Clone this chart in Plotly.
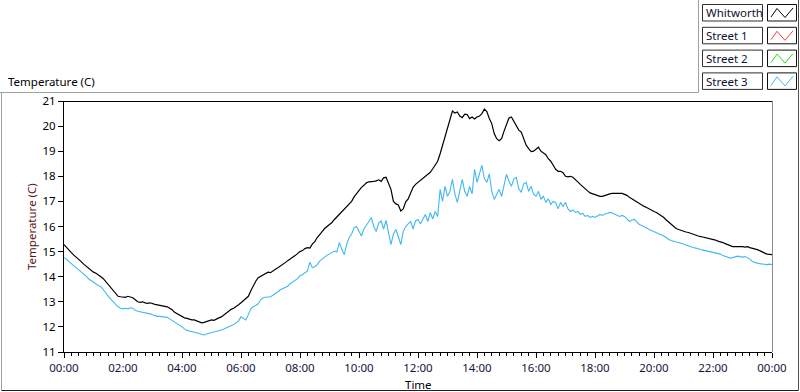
import pandas as pd
import plotly.graph_objects as go

# ---------------- data (5-minute samples, 00:00 .. 24:00) ----------------
whitworth = [
    15.28, 15.16, 15.04, 14.96, 14.86, 14.78, 14.70, 14.60, 14.50, 14.42, 14.34, 14.26,
    14.18, 14.14, 14.08, 14.00, 13.92, 13.80, 13.66, 13.54, 13.44, 13.34, 13.22, 13.20,
    13.20, 13.18, 13.22, 13.20, 13.16, 13.08, 13.00, 12.98, 13.00, 12.96, 12.94, 12.96,
    12.92, 12.90, 12.88, 12.86, 12.84, 12.82, 12.80, 12.74, 12.68, 12.58, 12.52, 12.46,
    12.40, 12.36, 12.34, 12.30, 12.28, 12.28, 12.24, 12.20, 12.16, 12.18, 12.22, 12.24,
    12.28, 12.26, 12.32, 12.36, 12.40, 12.48, 12.56, 12.62, 12.70, 12.74, 12.80, 12.88,
    12.96, 13.04, 13.14, 13.22, 13.44, 13.64, 13.82, 13.96, 14.02, 14.08, 14.14, 14.18,
    14.16, 14.24, 14.30, 14.36, 14.42, 14.48, 14.56, 14.64, 14.70, 14.76, 14.84, 14.92,
    15.00, 15.04, 15.12, 15.16, 15.14, 15.30, 15.40, 15.56, 15.70, 15.80, 15.92, 16.00,
    16.08, 16.16, 16.28, 16.38, 16.48, 16.60, 16.68, 16.80, 16.92, 17.00, 17.18, 17.32,
    17.44, 17.56, 17.64, 17.74, 17.78, 17.78, 17.80, 17.82, 17.86, 17.80, 17.94, 17.96,
    17.70, 17.48, 17.00, 16.90, 16.86, 16.62, 16.70, 16.98, 17.10, 17.30, 17.56, 17.68,
    17.76, 17.82, 17.90, 17.98, 18.08, 18.16, 18.30, 18.44, 18.60, 18.90, 19.24, 19.60,
    19.90, 20.24, 20.60, 20.52, 20.56, 20.40, 20.34, 20.48, 20.46, 20.30, 20.36, 20.28,
    20.36, 20.40, 20.50, 20.68, 20.58, 20.30, 20.10, 19.70, 19.50, 19.42, 19.50, 19.80,
    20.10, 20.32, 20.36, 20.18, 20.00, 19.84, 19.76, 19.50, 19.24, 19.10, 18.98, 19.00,
    19.10, 19.16, 19.00, 18.92, 18.86, 18.70, 18.60, 18.44, 18.28, 18.20, 18.20, 18.14,
    18.00, 17.98, 18.00, 17.96, 17.88, 17.78, 17.68, 17.58, 17.48, 17.42, 17.34, 17.30,
    17.28, 17.24, 17.20, 17.20, 17.24, 17.26, 17.30, 17.32, 17.32, 17.32, 17.30, 17.32,
    17.28, 17.24, 17.16, 17.10, 17.04, 16.98, 16.90, 16.86, 16.80, 16.76, 16.70, 16.66,
    16.60, 16.56, 16.50, 16.44, 16.36, 16.26, 16.18, 16.10, 16.00, 15.92, 15.88, 15.84,
    15.80, 15.78, 15.76, 15.72, 15.68, 15.66, 15.62, 15.60, 15.58, 15.56, 15.54, 15.52,
    15.48, 15.46, 15.42, 15.40, 15.36, 15.32, 15.28, 15.24, 15.20, 15.20, 15.20, 15.22,
    15.20, 15.18, 15.20, 15.16, 15.14, 15.10, 15.08, 15.04, 14.98, 14.94, 14.90, 14.88,
    14.88,
]

street3 = [
    14.76, 14.70, 14.60, 14.52, 14.42, 14.34, 14.26, 14.18, 14.10, 14.02, 13.92, 13.85,
    13.78, 13.70, 13.64, 13.60, 13.50, 13.36, 13.22, 13.10, 13.00, 12.90, 12.80, 12.74,
    12.72, 12.74, 12.72, 12.76, 12.74, 12.66, 12.62, 12.60, 12.58, 12.56, 12.56, 12.52,
    12.48, 12.44, 12.42, 12.42, 12.40, 12.40, 12.38, 12.32, 12.26, 12.18, 12.12, 12.06,
    12.00, 11.92, 11.86, 11.84, 11.82, 11.80, 11.78, 11.74, 11.70, 11.68, 11.72, 11.76,
    11.78, 11.80, 11.82, 11.84, 11.88, 11.92, 11.96, 12.00, 12.04, 12.10, 12.16, 12.24,
    12.40, 12.34, 12.28, 12.50, 12.72, 12.80, 12.86, 12.92, 13.08, 13.16, 13.18, 13.20,
    13.20, 13.26, 13.32, 13.40, 13.48, 13.52, 13.58, 13.62, 13.72, 13.78, 13.84, 13.92,
    14.04, 14.08, 14.16, 14.22, 14.58, 14.36, 14.40, 14.48, 14.62, 14.70, 14.76, 14.86,
    14.90, 14.96, 15.02, 14.98, 15.36, 15.10, 14.88, 15.30, 15.56, 15.70, 15.95, 16.00,
    15.78, 15.62, 15.90, 16.08, 16.20, 16.36, 16.00, 15.80, 16.14, 16.22, 15.90, 16.24,
    15.70, 15.28, 15.70, 15.88, 15.60, 15.28, 15.80, 16.00, 16.10, 16.20, 15.90, 16.22,
    16.28, 16.10, 16.30, 16.48, 16.20, 16.55, 16.30, 16.60, 16.40, 17.48, 17.00, 17.60,
    17.20, 17.40, 17.88, 17.30, 16.96, 17.50, 17.88, 17.40, 17.20, 17.60, 17.30, 18.28,
    17.76, 18.10, 18.44, 17.90, 17.76, 18.10, 17.40, 17.08, 17.30, 17.48, 17.20, 17.70,
    18.08, 17.80, 17.60, 17.90, 17.96, 17.50, 17.36, 17.70, 17.76, 17.40, 17.60, 17.30,
    17.20, 17.40, 17.08, 17.20, 16.96, 17.10, 16.88, 17.00, 16.96, 16.70, 16.96, 16.80,
    16.96, 16.70, 16.60, 16.66, 16.56, 16.60, 16.48, 16.52, 16.40, 16.44, 16.36, 16.40,
    16.36, 16.42, 16.48, 16.44, 16.50, 16.52, 16.56, 16.54, 16.50, 16.46, 16.40, 16.44,
    16.40, 16.30, 16.20, 16.26, 16.28, 16.18, 16.08, 16.04, 16.00, 15.94, 15.88, 15.84,
    15.80, 15.74, 15.70, 15.66, 15.62, 15.56, 15.48, 15.44, 15.40, 15.38, 15.36, 15.34,
    15.30, 15.26, 15.22, 15.20, 15.16, 15.14, 15.10, 15.08, 15.06, 15.04, 15.02, 15.00,
    14.98, 14.96, 14.94, 14.90, 14.84, 14.80, 14.76, 14.74, 14.76, 14.80, 14.82, 14.80,
    14.78, 14.80, 14.76, 14.70, 14.60, 14.56, 14.54, 14.52, 14.50, 14.50, 14.48, 14.50,
    14.48,
]

legend_names = ["Whitworth", "Street 1", "Street 2", "Street 3"]
legend_colors = ["#000000", "#ff3a3a", "#22dd22", "#40b8f0"]

times_w = pd.date_range("2000-01-01 00:00", periods=len(whitworth), freq="5min")
times_s3 = pd.date_range("2000-01-01 00:00", periods=len(street3), freq="5min")

# ---------------- geometry helpers (pixel -> paper) ----------------
W, H = 800, 392
L, R, T, B = 64, 28, 101, 40
PW, PH = W - L - R, H - T - B


def px(x):
    return (x - L) / PW


def py(y):
    return (H - B - y) / PH


FONT = "Noto Sans"
FS = 11.5

fig = go.Figure()
fig.add_trace(go.Scatter(x=times_s3, y=street3, mode="lines", name="Street 3",
                         line=dict(color="#40b8f0", width=1.1), hoverinfo="skip"))
fig.add_trace(go.Scatter(x=times_w, y=whitworth, mode="lines", name="Whitworth",
                         line=dict(color="#000000", width=1.2), hoverinfo="skip"))

shapes = []


def seg(x0, y0, x1, y1, color, width=1):
    shapes.append(dict(type="line", xref="paper", yref="paper",
                       x0=px(x0), y0=py(y0), x1=px(x1), y1=py(y1),
                       line=dict(color=color, width=width)))


# outer panel frame
seg(0, 92.5, 698.5, 92.5, "#a0a0a0")
seg(698.5, 0, 698.5, 92.5, "#a0a0a0")
seg(1.5, 92.5, 1.5, 390.5, "#a0a0a0")
seg(1.5, 390.5, 798.5, 390.5, "#202020")
seg(798.5, 0, 798.5, 390.5, "#505050")
# plot frame top / right
seg(L, 101.5, 772.5, 101.5, "#000000")
seg(772.5, 101.5, 772.5, 352, "#8c8c8c")

annotations = []
# legend boxes
for i, (name, col) in enumerate(zip(legend_names, legend_colors)):
    top = 4.5 + 22.8 * i
    bot = top + 16.5
    shapes.append(dict(type="rect", xref="paper", yref="paper",
                       x0=px(702.5), x1=px(762.5), y0=py(bot), y1=py(top),
                       line=dict(color="#303030", width=1), fillcolor="white"))
    shapes.append(dict(type="rect", xref="paper", yref="paper",
                       x0=px(767.5), x1=px(796.5), y0=py(bot), y1=py(top),
                       line=dict(color="#101010", width=1), fillcolor="white"))
    pts = [(771, top + 12.5), (777, top + 4), (785, top + 13), (793, top + 3.5)]
    path = "M " + " L ".join(f"{px(a)},{py(b)}" for a, b in pts)
    shapes.append(dict(type="path", xref="paper", yref="paper", path=path,
                       line=dict(color=col, width=1)))
    annotations.append(dict(text=name, xref="paper", yref="paper",
                            x=px(704), y=py((top + bot) / 2), xanchor="left",
                            yanchor="middle", showarrow=False,
                            font=dict(family=FONT, size=FS, color="#101030")))

annotations.append(dict(text="Temperature (C)", xref="paper", yref="paper",
                        x=px(6), y=py(81), xanchor="left", yanchor="middle",
                        showarrow=False, font=dict(family=FONT, size=FS, color="#000000")))
annotations.append(dict(text="Temperature (C)", xref="paper", yref="paper",
                        x=px(31), y=py(227), xanchor="center", yanchor="middle",
                        textangle=-90, showarrow=False,
                        font=dict(family=FONT, size=FS, color="#5a1414")))
annotations.append(dict(text="Time", xref="paper", yref="paper",
                        x=px(418), y=py(384), xanchor="center", yanchor="middle",
                        showarrow=False, font=dict(family=FONT, size=FS, color="#000000")))

fig.update_layout(
    width=W, height=H,
    margin=dict(l=L, r=R, t=T, b=B, autoexpand=False),
    paper_bgcolor="white", plot_bgcolor="white",
    showlegend=False,
    shapes=shapes, annotations=annotations,
    xaxis=dict(
        type="date",
        range=["2000-01-01 00:00", "2000-01-02 00:00"],
        dtick=7200000, tick0="2000-01-01 00:00", tickformat="%H:%M",
        ticks="outside", ticklen=5, tickcolor="#000000", tickwidth=1,
        minor=dict(dtick=900000, ticks="outside", ticklen=3, tickcolor="#000000", tickwidth=1, showgrid=False),
        showline=True, linecolor="#000000", linewidth=1,
        showgrid=False, zeroline=False,
        tickfont=dict(family=FONT, size=FS, color="#14143c"),
        fixedrange=True,
    ),
    yaxis=dict(
        range=[11, 21], dtick=1, tick0=11,
        ticks="outside", ticklen=5, tickcolor="#000000", tickwidth=1,
        showline=True, linecolor="#000000", linewidth=1,
        showgrid=False, zeroline=False,
        tickfont=dict(family=FONT, size=FS, color="#000000"),
        fixedrange=True,
    ),
)

fig.write_html(
    "out.html",
    config={"displayModeBar": False},
    post_script="document.body.style.margin='0px';document.body.style.overflow='hidden';",
)
